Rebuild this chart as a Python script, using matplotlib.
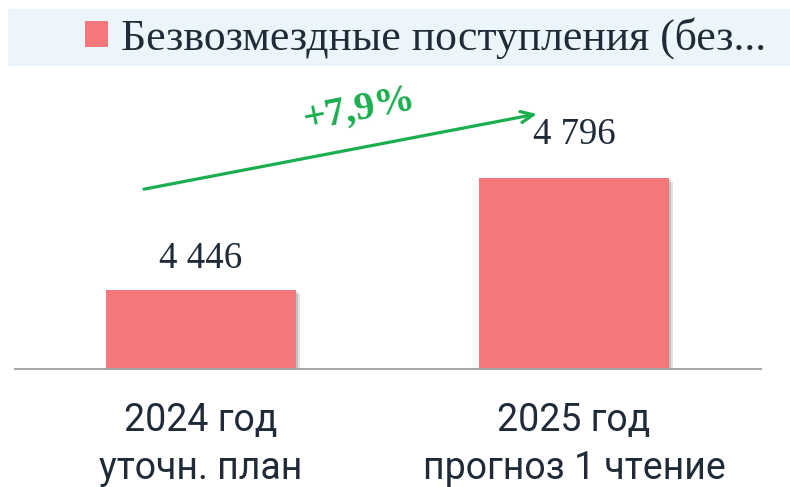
import matplotlib
matplotlib.use("Agg")
import matplotlib.pyplot as plt
from matplotlib.patches import Rectangle
import matplotlib.patheffects as pe

categories = ["2024 год\nуточн. план", "2025 год\nпрогноз 1 чтение"]
values = [4446, 4796]
value_labels = ["4 446", "4 796"]
series_name = "Безвозмездные поступления (без..."
growth_label = "+7,9%"

# style
label_offsets_pt = [16, 25]
BAR = "#F2787B"
TXT = "#1F2B38"
GREEN = "#1AAE4E"
SANS = ["Roboto", "DejaVu Sans"]
SERIF = ["Liberation Serif", "DejaVu Serif"]

fig = plt.figure(figsize=(7.9, 4.87), dpi=100)
ax = fig.add_axes([14.5 / 790, 118 / 487, 746 / 790, 300 / 487])

x = list(range(len(values)))
shadow = [pe.SimplePatchShadow(offset=(2.5, -2.5), shadow_rgbFace="#8a8a8a", alpha=0.25),
          pe.SimplePatchShadow(offset=(1.2, -1.2), shadow_rgbFace="#8a8a8a", alpha=0.35),
          pe.Normal()]
bars = ax.bar(x, values, width=0.51, color=BAR, label=series_name, zorder=2,
              path_effects=shadow)
ax.set_xlim(-0.5, 1.5)
ax.set_ylim(4200, 5137.5)

for s in ["top", "right", "left"]:
    ax.spines[s].set_visible(False)
ax.spines["bottom"].set_color("#A6A6A6")
ax.spines["bottom"].set_linewidth(1.4)
ax.spines["bottom"].set_zorder(3)
ax.set_yticks([])
ax.set_xticks(x)
ax.set_xticklabels(categories, fontsize=27, color=TXT, family=SANS, linespacing=1.38)
ax.tick_params(axis="x", length=0, pad=24)
ax.patch.set_alpha(0)

for xi, v, lab, off in zip(x, values, value_labels, label_offsets_pt):
    ax.annotate(lab, (xi, v), xytext=(0, off), textcoords="offset points",
                ha="center", va="baseline", fontsize=26.5, color=TXT, family=SERIF)

# growth arrow
ax.annotate("", xy=(0.901, 4997), xytext=(-0.153, 4762),
            arrowprops=dict(arrowstyle="->,head_length=0.9,head_width=0.4", color=GREEN, lw=2.3,
                            shrinkA=0, shrinkB=0))
ax.text(0.426, 5009, growth_label, rotation=11, ha="center", va="center",
        fontsize=29, fontweight="bold", color=GREEN, family=SERIF, rotation_mode="anchor")

# legend background
fig.patches.append(Rectangle((8 / 790, 1 - 66 / 487), 782 / 790, 57 / 487,
                             transform=fig.transFigure, facecolor="#EDF5FC", edgecolor="none", zorder=0))
leg = fig.legend(handles=[bars], labels=[series_name], loc="center left",
                 bbox_to_anchor=(85 / 790, 1 - 38 / 487), frameon=False,
                 borderpad=0, borderaxespad=0,
                 handlelength=0.52, handleheight=0.52, handletextpad=0.3,
                 prop={"family": SERIF, "size": 31.5})
for t in leg.get_texts():
    t.set_color(TXT)
for h in leg.legend_handles:
    h.set_path_effects([])

fig.savefig("out.png", dpi=100)
